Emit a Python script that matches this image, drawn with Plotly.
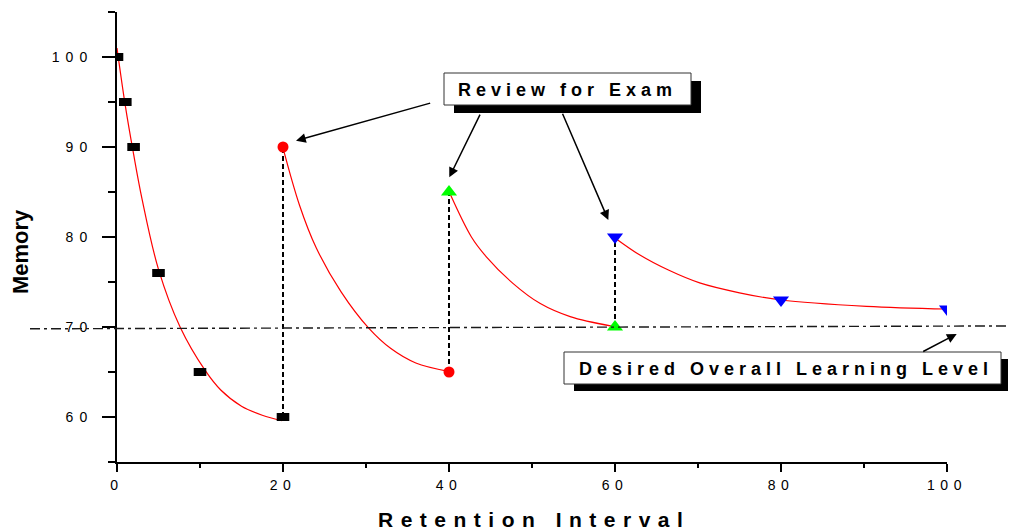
import plotly.graph_objects as go

# ---------------- data ----------------
sq_x = [0, 1, 2, 5, 10, 20]
sq_y = [100, 95, 90, 76, 65, 60]
circ_x = [20, 40]
circ_y = [90, 65]
up_x = [40, 60]
up_y = [85, 70]
down_x = [60, 80, 100]
down_y = [80, 73, 72]

fit1_x = [0, 1, 2, 3, 5, 7.6, 10.6, 12.5, 15, 17.5, 19.9]
fit1_y = [101, 94.6, 89.2, 84.3, 76.4, 70, 65.2, 63.0, 61.2, 60.2, 59.6]
fit2_x = [20, 22, 24, 27, 30.3, 33, 36, 39.8]
fit2_y = [89.9, 83.5, 78.8, 73.9, 69.9, 67.6, 66.0, 65.1]
fit3_x = [40.1, 42.7, 44.5, 47.7, 51, 54.6, 59.6]
fit3_y = [84.85, 80.0, 77.8, 74.85, 72.6, 71.15, 70.1]
fit4_x = [60, 63, 66.5, 70.2, 75, 80, 90.3, 100]
fit4_y = [79.9, 78.0, 76.3, 74.9, 73.8, 73.0, 72.3, 72.0]

review_x = [20, 40, 60]
review_lo = [60, 65, 70]
review_hi = [90, 85, 80]

desired_level = 70

x_ticks = [0, 20, 40, 60, 80, 100]
x_minor = [10, 30, 50, 70, 90]
y_ticks = [60, 70, 80, 90, 100]
y_minor = [55, 65, 75, 85, 95, 105]
x_range = [0, 100]
y_range = [55, 105]

# ---------------- geometry helpers ----------------
# The page puts the figure 8px in from the window corner; all pixel
# positions below are window pixels and get converted accordingly.
OFF = 8
W, H = 1016, 531
PX0, PX1, PY0, PY1 = 117, 947, 12, 462      # plot area in window pixels
L, T = PX0 - OFF, PY0 - OFF
R, B = W - (PX1 - OFF), H - (PY1 - OFF)
PW, PH = PX1 - PX0, PY1 - PY0


def px(xp):
    return (xp - PX0) / PW


def py(yp):
    return (PY1 - yp) / PH


def yfrac(v):
    return (v - y_range[0]) / (y_range[1] - y_range[0])


def spaced(s, ls):
    return "<span style='letter-spacing:%spx'>%s</span>" % (ls, s)


FONT = "Arial, Liberation Sans, sans-serif"

fig = go.Figure()

# dashed review verticals
for xv, lo, hi in zip(review_x, review_lo, review_hi):
    fig.add_trace(go.Scatter(x=[xv, xv], y=[lo, hi], mode="lines",
                             line=dict(color="black", width=2, dash="5px,3px"),
                             hoverinfo="skip", showlegend=False))

# fitted red curves
for fx, fy in [(fit1_x, fit1_y), (fit2_x, fit2_y), (fit3_x, fit3_y), (fit4_x, fit4_y)]:
    fig.add_trace(go.Scatter(x=fx, y=fy, mode="lines",
                             line=dict(color="#ff0000", width=1.2, shape="spline", smoothing=1.0),
                             hoverinfo="skip", showlegend=False))

# markers
fig.add_trace(go.Scatter(x=sq_x, y=sq_y, mode="markers", showlegend=False,
                         marker=dict(symbol="line-ew", size=9, color="black",
                                     line=dict(color="black", width=8))))
fig.add_trace(go.Scatter(x=circ_x, y=circ_y, mode="markers", showlegend=False,
                         marker=dict(symbol="circle", size=11, color="#ff0000",
                                     line=dict(width=0))))
fig.add_trace(go.Scatter(x=up_x, y=up_y, mode="markers", showlegend=False,
                         marker=dict(symbol="triangle-up", size=14, color="#00ff00",
                                     line=dict(width=0))))
fig.add_trace(go.Scatter(x=down_x, y=down_y, mode="markers", showlegend=False,
                         marker=dict(symbol="triangle-down", size=14, color="#0000ff",
                                     line=dict(width=0))))

shapes = []
# desired level dash-dot line (extends across the whole figure)
shapes.append(dict(type="line", xref="paper", yref="paper",
                   x0=px(30), x1=px(1016),
                   y0=yfrac(desired_level - 0.2), y1=yfrac(desired_level + 0.12),
                   line=dict(color="#1a1a1a", width=1.4, dash="10px,4px,3px,4px")))


# label boxes with drop shadow
def box(x0, y0, x1, y1, dx, dy):
    shapes.append(dict(type="rect", xref="paper", yref="paper",
                       x0=px(x0 + dx), x1=px(x1 + dx), y0=py(y1 + dy), y1=py(y0 + dy),
                       fillcolor="black", line=dict(width=0)))
    shapes.append(dict(type="rect", xref="paper", yref="paper",
                       x0=px(x0), x1=px(x1), y0=py(y1), y1=py(y0),
                       fillcolor="white", line=dict(color="#333333", width=1)))


box(444, 73, 691, 105, 10, 8)
box(564, 352, 1001, 384, 10, 7)

annotations = []
# box texts
annotations.append(dict(xref="paper", yref="paper", x=px(567.5), y=py(89.5),
                        text="<b>" + spaced("Review for Exam", 5) + "</b>",
                        showarrow=False, xanchor="center", yanchor="middle",
                        font=dict(family=FONT, size=18, color="black")))
annotations.append(dict(xref="paper", yref="paper", x=px(785.5), y=py(368.5),
                        text="<b>" + spaced("Desired Overall Learning Level", 5) + "</b>",
                        showarrow=False, xanchor="center", yanchor="middle",
                        font=dict(family=FONT, size=18, color="black")))

# arrows: (tip_x, tip_y, tail_x, tail_y) in window pixels
arrows = [(296, 140.7, 431.7, 102.7),
          (449.3, 177.3, 481, 112.7),
          (608.3, 220, 561.7, 111.7),
          (956.7, 334, 921.7, 352.3)]
for tx, ty, sx, sy in arrows:
    annotations.append(dict(xref="paper", yref="paper", x=px(tx), y=py(ty),
                            ax=sx - tx, ay=sy - ty, text=" ",
                            font=dict(size=1), showarrow=True,
                            arrowhead=2, arrowsize=1.3, arrowwidth=1.5,
                            arrowcolor="black", standoff=0, startstandoff=0))

# axis titles
annotations.append(dict(xref="paper", yref="paper", x=px(534), y=py(519),
                        text="<b>" + spaced("Retention Interval", 7.5) + "</b>",
                        showarrow=False, xanchor="center", yanchor="middle",
                        font=dict(family=FONT, size=21, color="black")))
annotations.append(dict(xref="paper", yref="paper", x=px(20), y=py(252),
                        text="<b>Memory</b>", textangle=-90,
                        showarrow=False, xanchor="center", yanchor="middle",
                        font=dict(family=FONT, size=22, color="black")))

fig.update_layout(
    width=W, height=H, autosize=False,
    margin=dict(l=L, r=R, t=T, b=B, pad=0),
    paper_bgcolor="white", plot_bgcolor="white",
    font=dict(family=FONT, color="black"),
    shapes=shapes, annotations=annotations, showlegend=False,
)

fig.update_xaxes(
    range=x_range, showline=True, linecolor="black", linewidth=2,
    showgrid=False, zeroline=False,
    ticks="outside", ticklen=8, tickwidth=2, tickcolor="black",
    tickmode="array", tickvals=x_ticks,
    ticktext=[spaced(str(v), 5.5) for v in x_ticks],
    tickfont=dict(family=FONT, size=14, color="black"),
    ticklabelstandoff=1,
    minor=dict(ticks="outside", ticklen=4, tickwidth=2, tickcolor="black",
               tickmode="array", tickvals=x_minor),
)
fig.update_yaxes(
    range=y_range, showline=True, linecolor="black", linewidth=2,
    showgrid=False, zeroline=False,
    ticks="outside", ticklen=13, tickwidth=2, tickcolor="black",
    tickmode="array", tickvals=y_ticks,
    ticktext=[spaced(str(v), 6) for v in y_ticks],
    tickfont=dict(family=FONT, size=14, color="black"),
    ticklabelstandoff=6,
    minor=dict(ticks="outside", ticklen=7, tickwidth=2, tickcolor="black",
               tickmode="array", tickvals=y_minor),
)

fig.write_html("out.html")
